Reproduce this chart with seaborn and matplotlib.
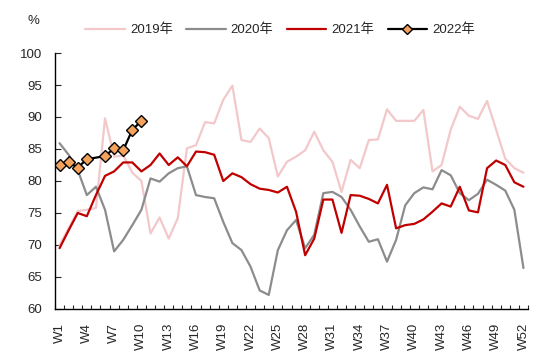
"""Weekly rate by year, 2019-2022."""
import matplotlib
matplotlib.use('Agg')
import matplotlib.pyplot as plt
import numpy as np
import pandas as pd
import seaborn as sns

weeks = list(range(1, 53))
week_labels = [f'W{w}' for w in weeks]

rate_2019 = [70.0, 72.6, 75.3, 75.5, 75.8, 89.8, 83.8, 84.0, 81.3, 80.0,
             71.8, 74.3, 71.0, 74.2, 85.1, 85.6, 89.2, 89.0, 92.7, 94.9,
             86.4, 86.1, 88.2, 86.7, 80.7, 83.0, 83.8, 84.8, 87.7, 84.8,
             83.0, 78.3, 83.3, 82.0, 86.4, 86.5, 91.2, 89.4, 89.4, 89.4,
             91.1, 81.5, 82.5, 88.0, 91.6, 90.2, 89.7, 92.5, 88.0, 83.5,
             82.0, 81.3]
rate_2020 = [85.9, 84.1, 81.7, 77.8, 79.1, 75.5, 69.0, 70.8, 73.1, 75.5,
             80.4, 79.9, 81.2, 82.0, 82.3, 77.8, 77.5, 77.3, 73.6, 70.3,
             69.2, 66.6, 62.9, 62.2, 69.2, 72.3, 73.9, 69.5, 71.6, 78.1,
             78.3, 77.5, 75.5, 72.9, 70.5, 70.9, 67.4, 70.8, 76.2, 78.1,
             79.0, 78.7, 81.7, 80.9, 78.1, 77.0, 78.0, 80.2, 79.4, 78.5,
             75.5, 66.4]
rate_2021 = [69.5, 72.3, 75.0, 74.5, 77.8, 80.8, 81.5, 82.9, 82.9, 81.5,
             82.5, 84.3, 82.5, 83.7, 82.3, 84.6, 84.5, 84.1, 80.0, 81.2,
             80.6, 79.5, 78.8, 78.6, 78.2, 79.1, 75.2, 68.4, 71.0, 77.1,
             77.1, 71.9, 77.8, 77.7, 77.2, 76.5, 79.4, 72.6, 73.1, 73.3,
             74.0, 75.2, 76.5, 76.0, 79.1, 75.4, 75.1, 82.0, 83.2, 82.5,
             79.8, 79.1]
# week 5 of 2022 has no value
rate_2022 = [82.5, 82.9, 82.1, 83.4, np.nan, 83.9, 85.1, 84.8, 88.0, 89.4]

years = ['2019年', '2020年', '2021年', '2022年']
colors = ['#F2C8CA', '#8C8C8C', '#C00000', '#000000']

sns.set_style('white')
plt.rcParams['font.family'] = ['Liberation Sans', 'Noto Sans CJK SC']
plt.rcParams['font.size'] = 9.5

fig = plt.figure(figsize=(5.5, 3.55), dpi=100)
ax = fig.add_axes([0.1, 0.1296, 0.86, 0.7211])

for name, vals, col in zip(years[:3], [rate_2019, rate_2020, rate_2021], colors[:3]):
    df = pd.DataFrame({'week': weeks, 'rate': vals})
    sns.lineplot(data=df, x='week', y='rate', color=col, linewidth=1.6,
                 label=name, ax=ax)

df22 = pd.DataFrame({'week': weeks[:len(rate_2022)], 'rate': rate_2022}).dropna()
sns.lineplot(data=df22, x='week', y='rate', color=colors[3], linewidth=1.6,
             marker='D', markersize=6.5, markerfacecolor='#F5A25C',
             markeredgecolor='black', markeredgewidth=1, label=years[3], ax=ax)

ax.set_xlim(0.5, 52.5)
ax.set_ylim(60, 100)
ax.set_yticks(range(60, 101, 5))
ax.set_xticks(weeks[::3])
ax.set_xticklabels(week_labels[::3], rotation=90)
ax.set_xticks(np.arange(0.5, 53, 1), minor=True)
ax.tick_params(axis='x', which='major', length=0, pad=10)
ax.tick_params(axis='x', which='minor', direction='in', length=3,
               width=0.8, bottom=True)
ax.tick_params(axis='y', direction='in', length=4, width=0.8, pad=9, left=True)
ax.set_xlabel('')
ax.set_ylabel('')
for side in ['top', 'right']:
    ax.spines[side].set_visible(False)
for side in ['left', 'bottom']:
    ax.spines[side].set_color('black')
    ax.spines[side].set_linewidth(1)

fig.text(0.06, 0.94, '%', ha='center', va='center', fontsize=9.5)

ax.legend(loc='center', bbox_to_anchor=(0.476, 1.09), ncol=4, frameon=False,
          handlelength=3, handletextpad=0.4, columnspacing=1.0,
          borderaxespad=0, markerscale=0.75)

fig.savefig('out.png', dpi=100)
